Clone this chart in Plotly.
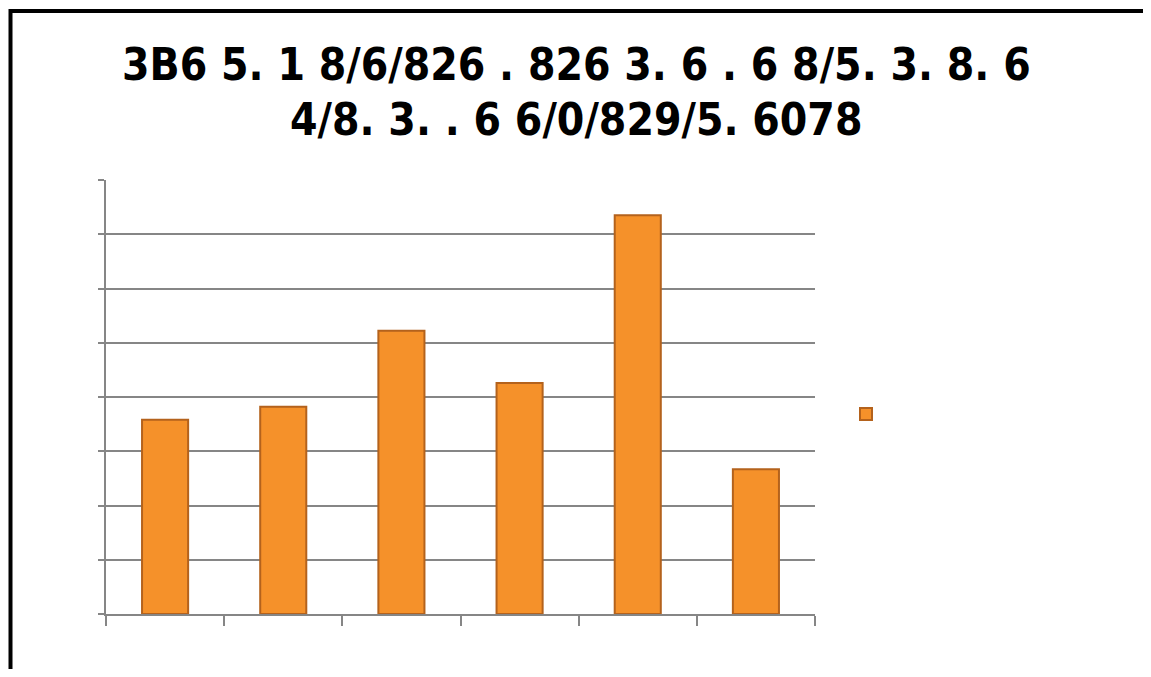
import plotly.graph_objects as go

# Data
categories = ["A", "B", "C", "D", "E", "F"]
values = [3.58, 3.82, 5.22, 4.26, 7.35, 2.67]
series_name = " "
title_lines = ["3B6 5. 1 8/6/826 . 826 3. 6 . 6 8/5. 3. 8. 6", "4/8. 3. . 6 6/0/829/5. 6078"]

OFF = 8  # default page body margin
W, H = 1151 - 2 * OFF, 677 - 2 * OFF
L, R, T, B = 106 - OFF, 815 - OFF, 180 - OFF, 614 - OFF
pw, ph = R - L, B - T

def px_x(p):
    return (p - OFF - L) / pw

def px_y(p):
    return (B - (p - OFF)) / ph

fig = go.Figure()
fig.add_trace(go.Bar(
    x=categories, y=values, name=series_name,
    marker=dict(color="#F5912A", line=dict(color="#B4621C", width=2)),
    showlegend=True,
))

title_font = dict(family="DejaVu Sans Condensed, Liberation Sans Narrow, sans-serif", size=44, color="black")
annotations = []
for line, cy in zip(title_lines, [64, 119]):
    annotations.append(dict(
        text="<b>" + line + "</b>", x=px_x(576), y=px_y(cy), xref="paper", yref="paper",
        xanchor="center", yanchor="middle", showarrow=False, font=title_font,
    ))

fig.update_layout(
    width=W, height=H,
    margin=dict(l=L, r=W - R, t=T, b=H - B, pad=0),
    paper_bgcolor="white", plot_bgcolor="white",
    bargap=0.61,
    annotations=annotations,
    xaxis=dict(
        showticklabels=False, showgrid=False, showline=True, linecolor="#868686", linewidth=2,
        ticks="outside", tickson="boundaries", ticklen=10, tickcolor="#868686", tickwidth=2,
        zeroline=False,
    ),
    yaxis=dict(
        range=[0, 8], dtick=1, showticklabels=False, showgrid=True, gridcolor="#868686", gridwidth=2,
        showline=True, linecolor="#868686", linewidth=2, ticks="outside", ticklen=6,
        tickcolor="#868686", tickwidth=2, zeroline=False,
    ),
    legend=dict(x=px_x(846), y=px_y(414), xanchor="left", yanchor="middle",
                font=dict(size=12), bgcolor="rgba(0,0,0,0)"),
    shapes=[dict(type="rect", xref="paper", yref="paper",
                 x0=px_x(10.5), x1=px_x(1170), y0=px_y(700), y1=px_y(11),
                 line=dict(color="black", width=4), fillcolor="rgba(0,0,0,0)", layer="below")],
)

fig.write_html("out.html")
